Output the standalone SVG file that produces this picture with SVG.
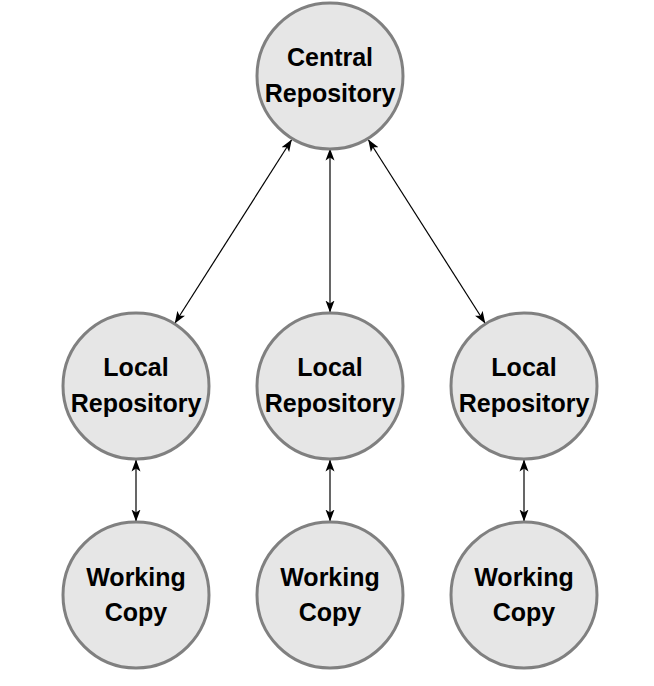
<svg xmlns="http://www.w3.org/2000/svg" width="654" height="686" viewBox="0 0 654 686">
<style>
.node circle{fill:#e6e6e6;stroke:#808080;stroke-width:3}
.node text{font-family:"Liberation Sans",Arial,sans-serif;font-weight:bold;font-size:25px;fill:#000;text-anchor:middle}
.edges line{stroke:#000;stroke-width:1.2;fill:none;marker-start:url(#ah);marker-end:url(#ah)}
</style>
<defs>
<marker id="ah" viewBox="0 0 12 10" refX="11.5" refY="5" markerWidth="12" markerHeight="10" markerUnits="userSpaceOnUse" orient="auto-start-reverse">
<path d="M0,0.5 L12,5 L0,9.5 L3,5 Z" fill="#000"/>
</marker>
</defs>
<rect width="654" height="686" fill="#fff"/>
<g class="edges" id="connectors">
<line x1="291.5" y1="140" x2="175" y2="323"/>
<line x1="330" y1="149" x2="330" y2="312"/>
<line x1="368.5" y1="140" x2="485" y2="323"/>
<line x1="136" y1="460" x2="136" y2="521"/>
<line x1="330" y1="460" x2="330" y2="521"/>
<line x1="524" y1="460" x2="524" y2="521"/>
</g>
<g class="node" id="central"><circle cx="330" cy="76" r="73"/><text x="330" y="66">Central</text><text x="330" y="102">Repository</text></g>
<g class="node" id="local1"><circle cx="136" cy="386" r="73"/><text x="136" y="376">Local</text><text x="136" y="412">Repository</text></g>
<g class="node" id="local2"><circle cx="330" cy="386" r="73"/><text x="330" y="376">Local</text><text x="330" y="412">Repository</text></g>
<g class="node" id="local3"><circle cx="524" cy="386" r="73"/><text x="524" y="376">Local</text><text x="524" y="412">Repository</text></g>
<g class="node" id="work1"><circle cx="136" cy="595" r="73"/><text x="136" y="586">Working</text><text x="136" y="621">Copy</text></g>
<g class="node" id="work2"><circle cx="330" cy="595" r="73"/><text x="330" y="586">Working</text><text x="330" y="621">Copy</text></g>
<g class="node" id="work3"><circle cx="524" cy="595" r="73"/><text x="524" y="586">Working</text><text x="524" y="621">Copy</text></g>
</svg>
